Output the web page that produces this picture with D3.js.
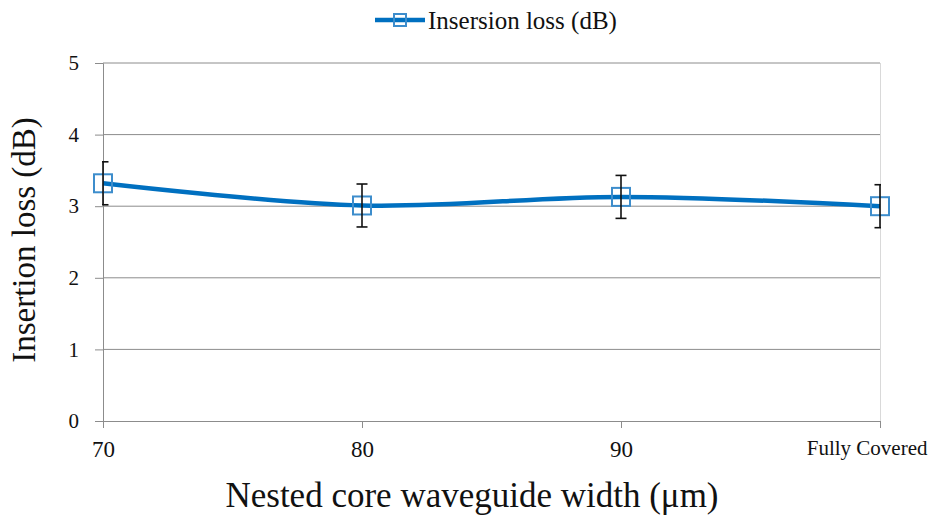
<!DOCTYPE html>
<html>
<head>
<meta charset="utf-8">
<script src="https://cdn.jsdelivr.net/npm/d3@7"></script>
<style>
  body { margin: 0; background: #fff; }
  svg, svg text { font-family: "Liberation Serif", "Times New Roman", serif; }
  svg { display: block; }
</style>
</head>
<body>
<svg id="chart" width="928" height="519"></svg>
<script>
// данные графика
const categories = ['70', '80', '90', 'Fully Covered'];
const lossValues = [3.32, 3.01, 3.13, 3.0];
const lossErrors = [0.3, 0.3, 0.3, 0.3];
const yTicks = [0, 1, 2, 3, 4, 5];
const seriesName = 'Insersion loss (dB)';

const svg = d3.select('#chart');
const margin = { left: 103, right: 48, top: 63, bottom: 98 };
const width = 928, height = 519;
const serif = '"Liberation Serif", "Times New Roman", serif';

const x = d3.scalePoint()
  .domain(categories)
  .range([margin.left, width - margin.right]);

const y = d3.scaleLinear()
  .domain([0, 5])
  .range([height - margin.bottom, margin.top]);

const lineColor = '#0070c0';
const markerColor = '#3d8dcc';
const gridColor = '#8c8c8c';

// область обрезки для планок погрешностей
svg.append('defs').append('clipPath')
  .attr('id', 'plot-clip')
  .append('rect')
  .attr('x', margin.left - 1)
  .attr('y', 0)
  .attr('width', width - margin.left - margin.right + 2)
  .attr('height', y(0));

// горизонтальная сетка
svg.append('g')
  .selectAll('line')
  .data(yTicks.filter(d => d > 0))
  .enter()
  .append('line')
  .attr('x1', margin.left)
  .attr('x2', width - margin.right)
  .attr('y1', d => y(d))
  .attr('y2', d => y(d))
  .attr('stroke', gridColor)
  .attr('stroke-width', 1);

// правая граница области
svg.append('line')
  .attr('x1', width - margin.right + 0.5)
  .attr('x2', width - margin.right + 0.5)
  .attr('y1', margin.top)
  .attr('y2', y(0))
  .attr('stroke', '#d9d9d9');

// ось Y
const yAxis = svg.append('g')
  .attr('transform', `translate(${margin.left},0)`)
  .call(d3.axisLeft(y).tickValues(yTicks).tickSize(8).tickPadding(16).tickFormat(d3.format('d')))
  .attr('font-family', null);
yAxis.select('.domain').attr('stroke', gridColor);
yAxis.selectAll('.tick line').attr('stroke', gridColor);
yAxis.selectAll('text')
  .style('font-family', serif)
  .style('font-size', '21px')
  .attr('fill', '#111');

// ось X
const xAxis = svg.append('g')
  .attr('transform', `translate(0,${y(0)})`)
  .call(d3.axisBottom(x).tickSize(7).tickSizeOuter(0))
  .attr('font-family', null);
xAxis.select('.domain').attr('stroke', gridColor);
xAxis.selectAll('.tick line').attr('stroke', gridColor);
xAxis.selectAll('text')
  .style('font-family', serif)
  .style('font-size', '23px')
  .attr('fill', '#111')
  .attr('y', 36)
  .attr('dy', 0);
xAxis.selectAll('.tick')
  .filter(d => d === 'Fully Covered')
  .select('text')
  .style('font-size', '21px')
  .attr('text-anchor', 'end')
  .attr('x', width - 1 - x('Fully Covered'))
  .attr('y', 34);

// подписи осей
svg.append('text')
  .attr('transform', `translate(35, ${(margin.top + y(0)) / 2 - 2}) rotate(-90)`)
  .attr('text-anchor', 'middle')
  .style('font-family', serif)
  .style('font-size', '33px')
  .attr('fill', '#111')
  .text('Insertion loss (dB)');

svg.append('text')
  .attr('x', 472)
  .attr('y', 507)
  .attr('text-anchor', 'middle')
  .style('font-family', serif)
  .style('font-size', '35px')
  .attr('fill', '#111')
  .text('Nested core waveguide width (μm)');

// линия серии
const points = categories.map((c, i) => ({ cat: c, v: lossValues[i], e: lossErrors[i] }));

svg.append('path')
  .datum(points)
  .attr('fill', 'none')
  .attr('stroke', lineColor)
  .attr('stroke-width', 4.5)
  .attr('d', d3.line()
    .x(d => x(d.cat))
    .y(d => y(d.v))
    .curve(d3.curveCatmullRom.alpha(0.5)));

// маркеры
const ms = 18;
svg.append('g')
  .selectAll('rect')
  .data(points)
  .enter()
  .append('rect')
  .attr('x', d => x(d.cat) - ms / 2)
  .attr('y', d => y(d.v) - ms / 2)
  .attr('width', ms)
  .attr('height', ms)
  .attr('fill', 'none')
  .attr('stroke', markerColor)
  .attr('stroke-width', 2);

// планки погрешностей
const eb = svg.append('g')
  .attr('clip-path', 'url(#plot-clip)')
  .attr('stroke', '#111')
  .attr('stroke-width', 1.6);
points.forEach(d => {
  const cx = x(d.cat);
  eb.append('line')
    .attr('x1', cx).attr('x2', cx)
    .attr('y1', y(d.v + d.e)).attr('y2', y(d.v - d.e));
  [d.v + d.e, d.v - d.e].forEach(v => {
    eb.append('line')
      .attr('x1', cx - 5.5).attr('x2', cx + 5.5)
      .attr('y1', y(v)).attr('y2', y(v));
  });
});

// легенда
const legend = svg.append('g').attr('transform', 'translate(375, 20)');
legend.append('line')
  .attr('x1', 0).attr('x2', 50)
  .attr('y1', 0).attr('y2', 0)
  .attr('stroke', lineColor)
  .attr('stroke-width', 4.5);
legend.append('rect')
  .attr('x', 25 - 6).attr('y', -6)
  .attr('width', 12).attr('height', 12)
  .attr('fill', 'none')
  .attr('stroke', markerColor)
  .attr('stroke-width', 2);
legend.append('text')
  .attr('x', 53)
  .attr('y', 9)
  .style('font-family', serif)
  .style('font-size', '25px')
  .attr('fill', '#111')
  .text(seriesName);
</script>
</body>
</html>
